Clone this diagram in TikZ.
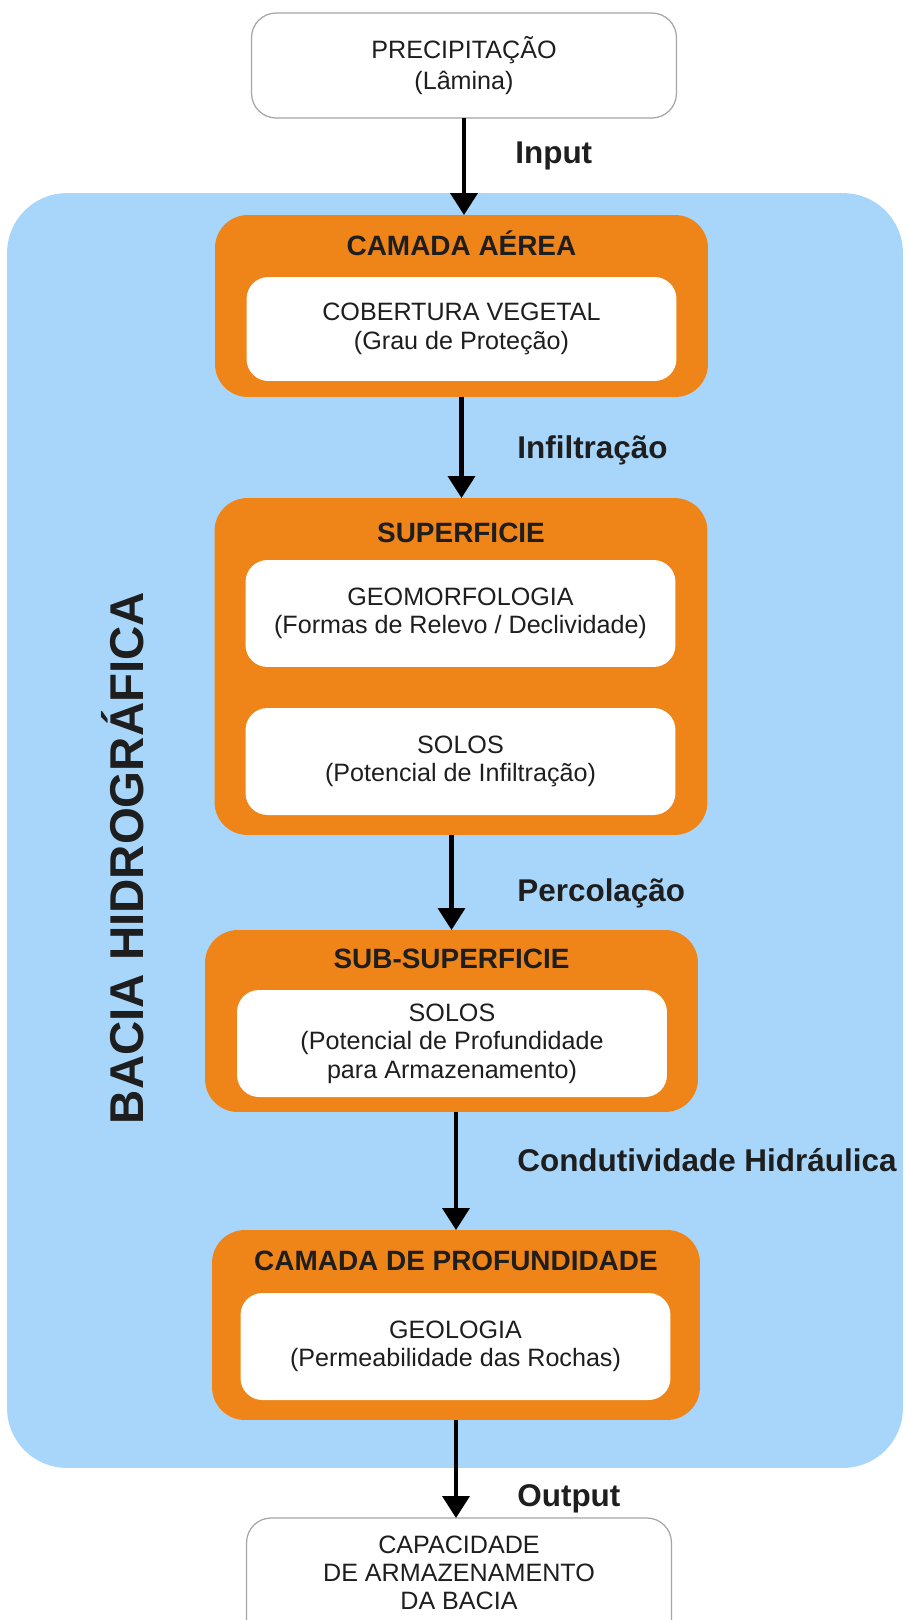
\documentclass[tikz,border=0pt]{standalone}
\usepackage{fontspec}
\setmainfont{Liberation Sans}
\usepackage{tikz}
\usetikzlibrary{positioning}
\usetikzlibrary{arrows.meta}

\definecolor{azulbacia}{RGB}{168,214,250}
\definecolor{laranja}{RGB}{239,132,25}
\definecolor{texto}{RGB}{30,30,30}
\definecolor{borda}{RGB}{165,165,165}

\begin{document}
\begin{tikzpicture}[
x=0.02cm, y=-0.02cm,
bacianode/.style={
    rectangle,
    fill=azulbacia,
    rounded corners=34pt,
    minimum width=17.92cm,
    minimum height=25.5cm,
    inner sep=0pt, % No inner spacing
    outer sep=0pt, % No outer spacing
},
camadanode/.style={
    rectangle,
    fill=laranja,
    rounded corners=18.7pt,
    minimum width=9.86cm,
    inner sep=0pt,
    outer sep=0pt,
},
brancanode/.style={
    rectangle,
    fill=white,
    text=texto,
    rounded corners=12.5pt,
    minimum width=8.6cm,
    minimum height=2.14cm,
    align=center,
    font=\fontsize{14.3}{16.2}\selectfont,
    inner sep=0pt,
    outer sep=0pt,
},
extnode/.style={
    rectangle,
    draw=borda,
    line width=0.7pt,
    fill=white,
    text=texto,
    rounded corners=14pt,
    minimum width=8.5cm,
    align=center,
    inner sep=0pt,
    outer sep=0pt,
},
titulo/.style={
    anchor=base,
    text=texto,
    font=\fontsize{15.9}{18}\selectfont\bfseries,
    inner sep=0pt,
},
rotulo/.style={
    anchor=base west,
    text=texto,
    font=\fontsize{17.9}{20}\selectfont\bfseries,
    inner sep=0pt,
},
seta/.style={
    -{Triangle[width=15.3pt,length=12.5pt]},
    line width=2.3pt,
    black,
},
]

\useasboundingbox (0,0) rectangle (907,1620);

% fundo da bacia
\node[bacianode] (bacia) at (455,830.5) {};
\node[rotate=90, text=texto, font=\fontsize{27}{30}\selectfont\bfseries] (bacia-tit) at (123,858) {BACIA HIDROGRÁFICA};

% entrada e saida
\node[extnode, minimum height=2.1cm, font=\fontsize{14.3}{18.1}\selectfont] (precip) at (464,65.5) {PRECIPITAÇÃO\\(Lâmina)};
\node[extnode, anchor=north, minimum height=2.9cm] (armaz) at (459,1518) {};
\node[align=center, text=texto, font=\fontsize{14.3}{15.8}\selectfont, inner sep=0pt] (armaz-txt) at (459,1573) {CAPACIDADE\\DE ARMAZENAMENTO\\DA BACIA};

% camadas
\node[camadanode, minimum height=3.64cm] (aerea) at (461.5,306) {};
\node[titulo] (aerea-tit) at (461.5,255) {CAMADA AÉREA};
\node[brancanode, minimum height=2.08cm] (cobertura) at (461.5,329) {COBERTURA VEGETAL\\(Grau de Proteção)};

\node[camadanode, minimum height=6.74cm] (superf) at (461,666.5) {};
\node[titulo] (superf-tit) at (461,542) {SUPERFICIE};
\node[brancanode] (geomorf) at (460.5,613.5) {GEOMORFOLOGIA\\(Formas de Relevo / Declividade)};
\node[brancanode] (solos-1) at (460.5,761.5) {SOLOS\\(Potencial de Infiltração)};

\node[camadanode, minimum height=3.64cm] (subsup) at (451.5,1021) {};
\node[titulo] (subsup-tit) at (451.5,968) {SUB-SUPERFICIE};
\node[brancanode] (solos-2) at (452,1043.5) {SOLOS\\(Potencial de Profundidade\\para Armazenamento)};

\node[camadanode, minimum height=3.8cm, minimum width=9.76cm] (profund) at (456,1325) {};
\node[titulo] (profund-tit) at (456,1270) {CAMADA DE PROFUNDIDADE};
\node[brancanode] (geologia) at (455.5,1346.5) {GEOLOGIA\\(Permeabilidade das Rochas)};

% fluxos
\draw[seta] (precip.south) -- (precip.south |- aerea.north);
\draw[seta] (aerea.south) -- (aerea.south |- superf.north);
\draw[seta] (subsup.north |- superf.south) -- (subsup.north);
\draw[seta] (profund.north |- subsup.south) -- (profund.north);
\draw[seta] (profund.south) -- (profund.south |- armaz.north);

\node[rotulo] (input) at (515,163) {Input};
\node[rotulo] (infiltracao) at (517,458) {Infiltração};
\node[rotulo] (percolacao) at (517,901) {Percolação};
\node[rotulo] (condutividade) at (517,1171) {Condutividade Hidráulica};
\node[rotulo] (output) at (517,1506) {Output};

\end{tikzpicture}
\end{document}
